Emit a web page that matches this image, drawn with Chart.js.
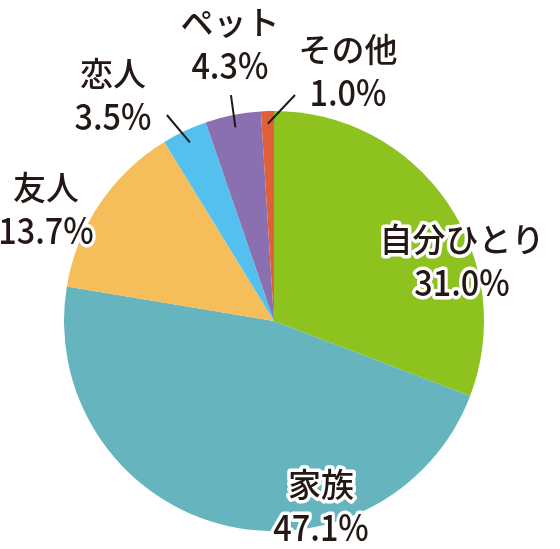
<!DOCTYPE html>
<html>
<head>
<meta charset="utf-8">
<script src="https://cdn.jsdelivr.net/npm/chart.js@4"></script>
<style>
  html, body { margin: 0; padding: 0; background: #fff; }
  #wrap { width: 560px; height: 549px; }
</style>
</head>
<body>
<div id="wrap"><canvas id="pieChart"></canvas></div>
<script>
// data
const categories = ['自分ひとり', '家族', '友人', '恋人', 'ペット', 'その他'];
const shares = [31.0, 47.1, 13.7, 3.5, 4.3, 1.0];
const sliceColors = ['#8dc21f', '#66b4bd', '#f5be5a', '#54c0ee', '#8a70b0', '#e0603a'];

// label placement, in fractions of the radius from the pie centre
const labelPos = [
    [0.895, -0.29], [0.224, 0.876], [-1.086, -0.538],
    [-0.767, -1.081], [-0.21, -1.324], [0.352, -1.195]
];
// leader line outer end (null = no leader)
const leaderEnd = [null, null, null, [-0.51, -0.981], [-0.205, -1.076], [0.1, -1.076]];

function outlinedText(ctx, text, x, y, font, sx) {
    ctx.save();
    ctx.translate(x, y);
    ctx.scale(sx, 1);
    ctx.font = font;
    ctx.strokeStyle = '#ffffff';
    ctx.lineWidth = 7;
    ctx.strokeText(text, 0, 0);
    ctx.fillStyle = '#231815';
    ctx.fillText(text, 0, 0);
    ctx.restore();
}

const labelPlugin = {
    id: 'pieLabels',
    afterDatasetsDraw(chart) {
        const ctx = chart.ctx;
        const arcs = chart.getDatasetMeta(0).data;
        ctx.save();
        ctx.textAlign = 'center';
        ctx.textBaseline = 'middle';
        ctx.lineJoin = 'round';
        arcs.forEach((arc, i) => {
            const cx = arc.x, cy = arc.y, r = arc.outerRadius;
            if (leaderEnd[i]) {
                const mid = (arc.startAngle + arc.endAngle) / 2;
                ctx.beginPath();
                ctx.moveTo(cx + Math.cos(mid) * r * 0.94, cy + Math.sin(mid) * r * 0.94);
                ctx.lineTo(cx + leaderEnd[i][0] * r, cy + leaderEnd[i][1] * r);
                ctx.strokeStyle = '#231815';
                ctx.lineWidth = 2;
                ctx.stroke();
            }
            const x = cx + labelPos[i][0] * r;
            const y = cy + labelPos[i][1] * r;
            outlinedText(ctx, categories[i], x, y - 21, '500 33px "Noto Sans CJK JP", sans-serif', 1);
            outlinedText(ctx, shares[i].toFixed(1) + '%', x, y + 22, '500 36px "Noto Sans CJK JP", sans-serif', 0.9);
        });
        ctx.restore();
    }
};

new Chart(document.getElementById('pieChart'), {
    type: 'pie',
    data: {
        labels: categories,
        datasets: [{
            data: shares,
            backgroundColor: sliceColors,
            borderWidth: 0
        }]
    },
    options: {
        responsive: true,
        maintainAspectRatio: false,
        animation: false,
        layout: { padding: { left: 64, right: 76, top: 111, bottom: 18 } },
        plugins: { legend: { display: false }, tooltip: { enabled: false } }
    },
    plugins: [labelPlugin]
});
</script>
</body>
</html>
